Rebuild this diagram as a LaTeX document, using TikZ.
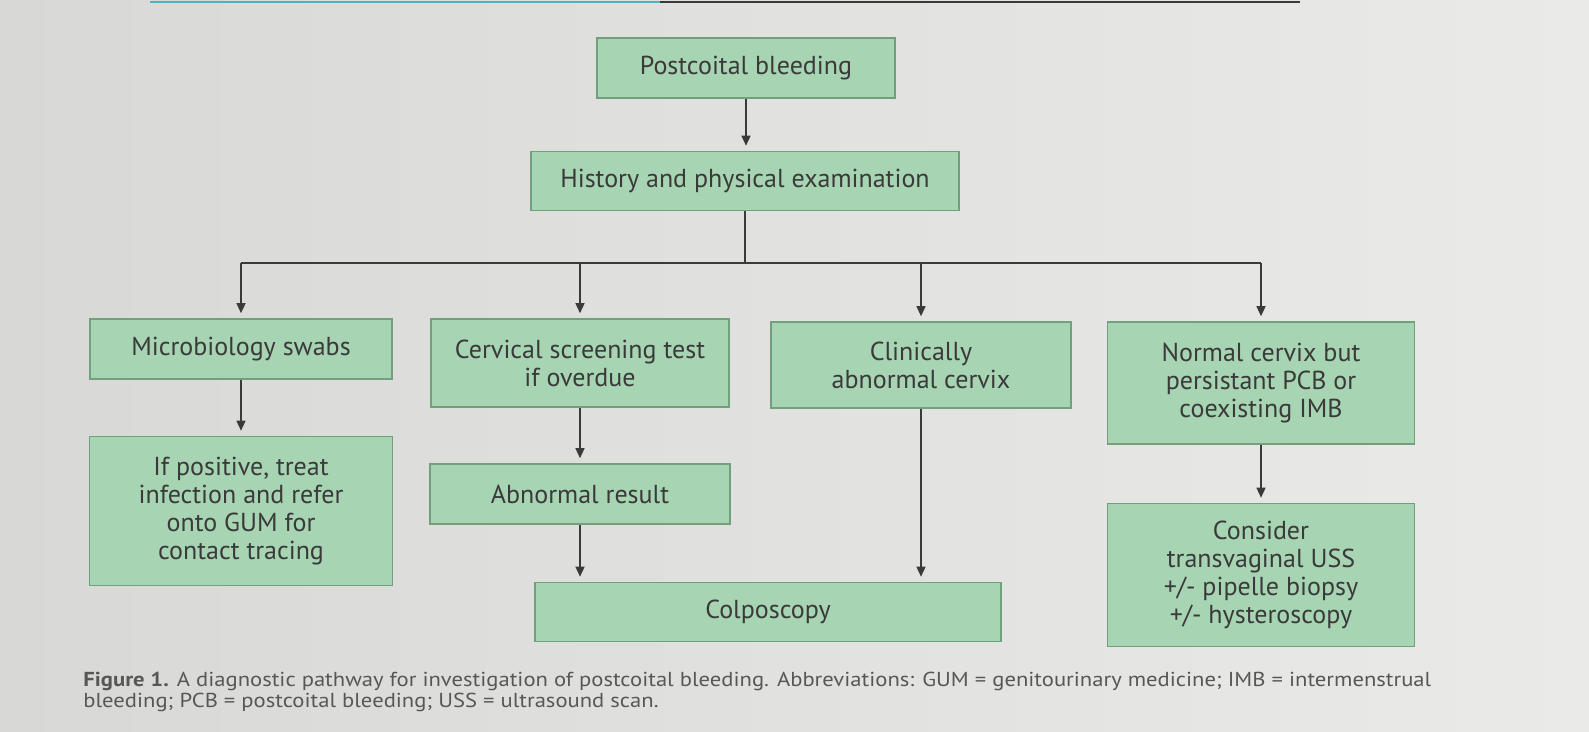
\documentclass[tikz,border=0pt]{standalone}
\usepackage{fontspec}
\setmainfont{PT Sans}
\newfontfamily\captionfont[FakeStretch=1.12]{PT Sans}
\usetikzlibrary{arrows.meta}
\definecolor{bgleft}{RGB}{216,216,214}
\definecolor{bgright}{RGB}{234,234,232}
\definecolor{boxfill}{RGB}{167,212,178}
\definecolor{boxline}{RGB}{112,160,124}
\definecolor{inkgray}{RGB}{58,58,58}
\definecolor{tealedge}{RGB}{70,180,195}

\begin{document}
\begin{tikzpicture}[x=0.5pt,y=-0.5pt,
  flowbox/.style={draw=boxline,fill=boxfill,line width=0.8pt,align=center,text=inkgray,
    font=\fontsize{13}{14}\selectfont,inner sep=0pt},
  flowline/.style={draw=inkgray,line width=0.7pt},
  flowarrow/.style={flowline,-{Triangle[length=5pt,width=4.5pt]},shorten >=2.5pt}]
  % background and page edge
  \shade[left color=bgleft,right color=bgright] (0,0) rectangle (1589,732);
  \useasboundingbox (0,0) rectangle (1589,732);
  \draw[tealedge,line width=1pt] (150,2) -- (660,2);
  \draw[inkgray,line width=1pt] (660,2) -- (1300,2);

  % boxes
  \node[flowbox,minimum width=149pt,minimum height=30pt] (pcb) at (746,68) {Postcoital bleeding};
  \node[flowbox,minimum width=214pt,minimum height=29.5pt] (hist) at (745,181) {History and physical examination};
  \node[flowbox,minimum width=151pt,minimum height=30pt] (micro) at (241,349) {Microbiology swabs};
  \node[flowbox,minimum width=149pt,minimum height=44pt] (screen) at (580,363) {Cervical screening test\\if overdue};
  \node[flowbox,minimum width=150pt,minimum height=43pt] (clin) at (921,365) {Clinically\\abnormal cervix};
  \node[flowbox,minimum width=153.5pt,minimum height=61pt] (norm) at (1261,383) {Normal cervix but\\persistant PCB or\\coexisting IMB};
  \node[flowbox,minimum width=151.5pt,minimum height=74.5pt] (treat) at (241,511) {If positive, treat\\infection and refer\\onto GUM for\\contact tracing};
  \node[flowbox,minimum width=150pt,minimum height=30pt] (abn) at (580,494) {Abnormal result};
  \node[flowbox,minimum width=233pt,minimum height=29.5pt] (colpo) at (768,612) {Colposcopy};
  \node[flowbox,minimum width=153.5pt,minimum height=71.5pt] (uss) at (1261,575) {Consider\\transvaginal USS\\+/- pipelle biopsy\\+/- hysteroscopy};

  % connectors
  \coordinate (split) at (745,263);
  \draw[flowarrow] (pcb.south) -- (pcb.south |- hist.north);
  \draw[flowline] (hist.south) -- (split);
  \draw[flowline] (split -| micro) -- (split -| norm);
  \foreach \n in {micro,screen,clin,norm}
    \draw[flowarrow] (split -| \n) -- (\n.north);
  \draw[flowarrow] (micro) -- (treat);
  \draw[flowarrow] (screen) -- (abn);
  \draw[flowarrow] (abn.south) -- (abn.south |- colpo.north);
  \draw[flowarrow] (clin.south) -- (clin.south |- colpo.north);
  \draw[flowarrow] (norm) -- (uss);

  % caption
  \node[anchor=north west,align=left,inner sep=0pt,text=inkgray!85,font=\captionfont\fontsize{10.1}{9.2}\selectfont]
    (caption) at (83,672) {\textbf{Figure 1.} A diagnostic pathway for investigation of postcoital bleeding. Abbreviations: GUM = genitourinary medicine; IMB = intermenstrual\\
    bleeding; PCB = postcoital bleeding; USS = ultrasound scan.};
\end{tikzpicture}
\end{document}
